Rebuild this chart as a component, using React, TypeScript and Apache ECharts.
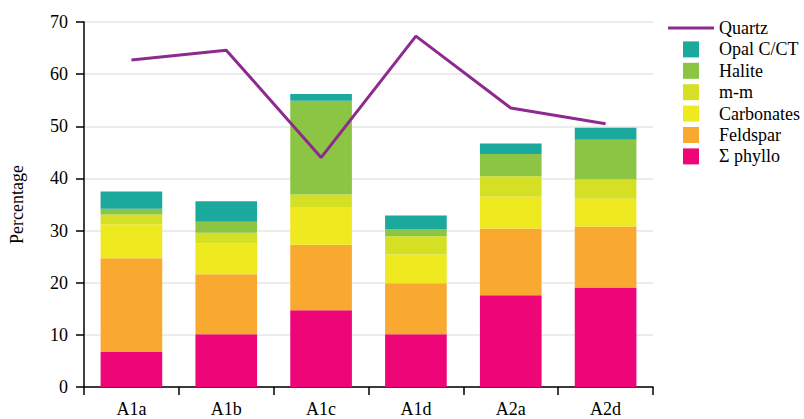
import React, { useEffect, useRef } from "react";
import * as echarts from "echarts";

const categories = ["A1a", "A1b", "A1c", "A1d", "A2a", "A2d"];
const phyllo = [6.7, 10.1, 14.7, 10.1, 17.6, 19.1];
const feldspar = [18.0, 11.5, 12.6, 9.8, 12.8, 11.7];
const carbonates = [6.5, 5.9, 7.1, 5.5, 6.1, 5.3];
const mm = [1.9, 2.1, 2.5, 3.5, 3.9, 3.7];
const halite = [1.1, 2.1, 18.0, 1.3, 4.3, 7.6];
const opal = [3.3, 3.9, 1.3, 2.7, 2.0, 2.3];
const quartz = [62.7, 64.6, 44.0, 67.3, 53.5, 50.5];

const FONT = "'Liberation Serif', 'Times New Roman', serif";
const SQ = "path://M0,0L10,0L10,10L0,10Z";
const LINE = "path://M0,0L46,0L46,3L0,3Z";

export default function App() {
  const ref = useRef<HTMLDivElement>(null);
  useEffect(() => {
    if (!ref.current) return;
    const chart = echarts.init(ref.current, undefined, { renderer: "svg" });
    const bar = (name: string, data: number[], color: string) => ({
      name,
      type: "bar",
      stack: "total",
      data,
      barWidth: "65%",
      itemStyle: { color },
    });
    chart.setOption({
      animation: false,
      textStyle: { fontFamily: FONT, color: "#000" },
      grid: { left: 78, right: 151, top: 22, bottom: 32 },
      legend: {
        orient: "vertical",
        left: 663,
        top: 14,
        itemWidth: 46,
        itemHeight: 16,
        itemGap: 3.4,
        itemTextGap: 10,
        symbolKeepAspect: true,
        textStyle: { fontFamily: FONT, fontSize: 18, color: "#000" },
        data: [
          { name: "Quartz", icon: LINE, itemStyle: { color: "#8E2A8F" } },
          { name: "Opal C/CT", icon: SQ },
          { name: "Halite", icon: SQ },
          { name: "m-m", icon: SQ },
          { name: "Carbonates", icon: SQ },
          { name: "Feldspar", icon: SQ },
          { name: "Σ phyllo", icon: SQ },
        ],
      },
      xAxis: {
        type: "category",
        data: categories,
        axisLine: { lineStyle: { color: "#000", width: 1.5 } },
        axisTick: { show: true, length: 8, lineStyle: { color: "#000", width: 1.5 } },
        axisLabel: { fontFamily: FONT, fontSize: 18, color: "#000", margin: 13 },
      },
      yAxis: {
        type: "value",
        min: 0,
        max: 70,
        interval: 10,
        name: "Percentage",
        nameLocation: "middle",
        nameGap: 58,
        nameTextStyle: { fontFamily: FONT, fontSize: 18, color: "#000" },
        axisLine: { show: true, lineStyle: { color: "#000", width: 1.5 } },
        axisTick: { show: true, length: 8, lineStyle: { color: "#000", width: 1.5 } },
        axisLabel: { fontFamily: FONT, fontSize: 18, color: "#000", margin: 16 },
        splitLine: { lineStyle: { color: "#e6e6e6", width: 1.5 } },
      },
      series: [
        bar("Σ phyllo", phyllo, "#EE0577"),
        bar("Feldspar", feldspar, "#FAA930"),
        bar("Carbonates", carbonates, "#EFE920"),
        bar("m-m", mm, "#D5E024"),
        bar("Halite", halite, "#8BC543"),
        bar("Opal C/CT", opal, "#1BA89D"),
        {
          name: "Quartz",
          type: "line",
          data: quartz,
          symbol: "none",
          z: 5,
          lineStyle: { color: "#8E2A8F", width: 3 },
          itemStyle: { color: "#8E2A8F" },
        },
      ],
    });
    return () => chart.dispose();
  }, []);
  return <div ref={ref} style={{ width: 804, height: 419, position: "absolute", left: 0, top: 0 }} />;
}
